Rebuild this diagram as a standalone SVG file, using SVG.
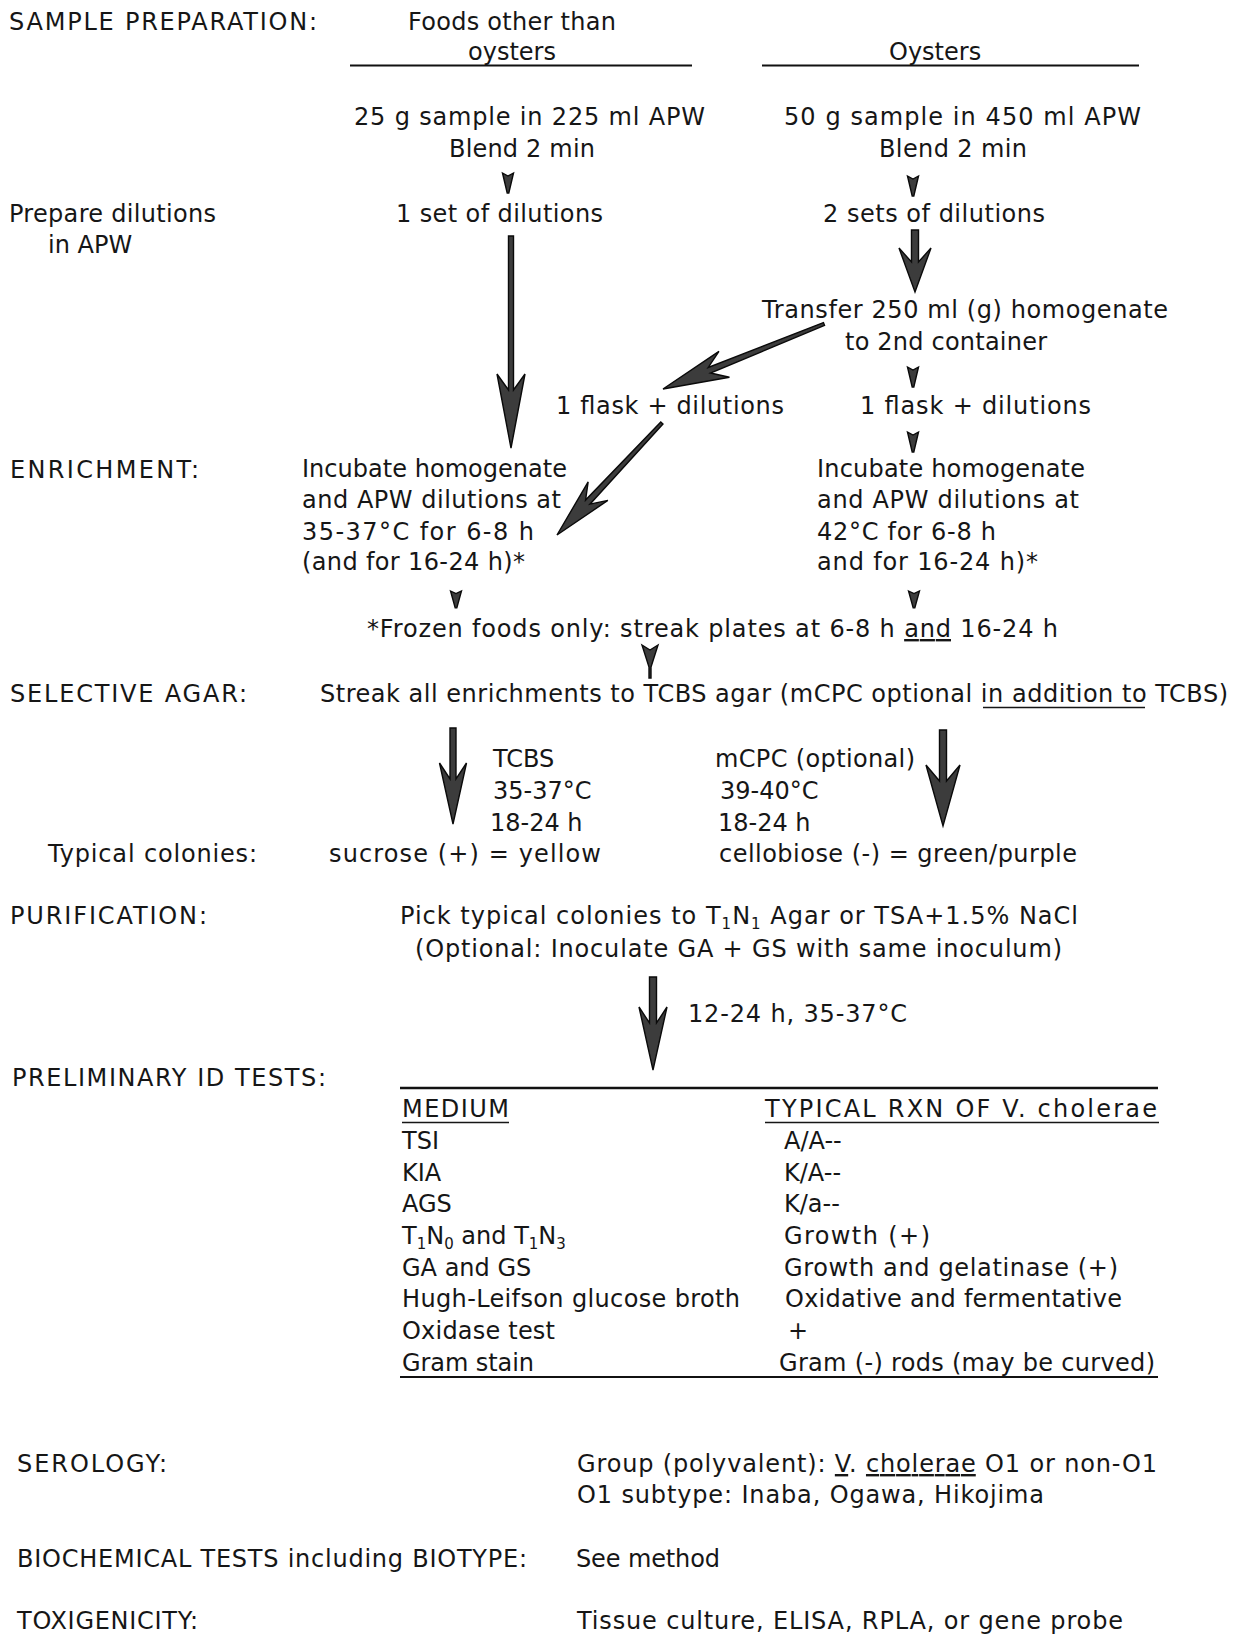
<svg xmlns="http://www.w3.org/2000/svg" width="1235" height="1636" viewBox="0 0 1235 1636">
<defs>
<style>
text{font-family:"DejaVu Sans","Liberation Sans",sans-serif;font-size:24px;fill:#161616}
.ul{text-decoration:underline}
.sub{font-size:15px}
.arrow{fill:#3c3c3c;stroke:#0a0a0a;stroke-width:1.4;stroke-linejoin:miter}
.rule{stroke:#111;stroke-width:2;fill:none}
.uline{stroke:#161616;stroke-width:1.6;fill:none}
</style>
<polygon id="dart" points="-5.5,0 0,3 5.5,0 0.8,20 -0.8,20"/>
</defs>
<rect width="1235" height="1636" fill="#fff"/>

<g id="sample-prep">
<text x="9" y="30" textLength="308">SAMPLE PREPARATION:</text>
<text x="408" y="30" textLength="208">Foods other than</text>
<text x="468" y="60">oysters</text>
<text x="889" y="60">Oysters</text>
<line class="rule" x1="350" y1="65.5" x2="692" y2="65.5"/>
<line class="rule" x1="762" y1="65.5" x2="1139" y2="65.5"/>
</g>

<g id="left-sample">
<text x="354" y="125" textLength="351">25 g sample in 225 ml APW</text>
<text x="449" y="157" textLength="146">Blend 2 min</text>
</g>
<g id="right-sample">
<text x="784" y="125" textLength="357">50 g sample in 450 ml APW</text>
<text x="879" y="157" textLength="148">Blend 2 min</text>
</g>
<g id="prepare-label">
<text x="9" y="222" textLength="207">Prepare dilutions</text>
<text x="48" y="253">in APW</text>
</g>
<g id="left-dilutions"><text x="396" y="222" textLength="207">1 set of dilutions</text></g>
<g id="right-dilutions"><text x="823" y="222" textLength="222">2 sets of dilutions</text></g>
<g id="transfer">
<text x="762" y="318" textLength="406">Transfer 250 ml (g) homogenate</text>
<text x="845" y="350" textLength="202">to 2nd container</text>
</g>
<g id="flask-left"><text x="556" y="414" textLength="228">1 flask + dilutions</text></g>
<g id="flask-right"><text x="860" y="414" textLength="231">1 flask + dilutions</text></g>

<g id="enrichment-label"><text x="10" y="478" textLength="189">ENRICHMENT:</text></g>
<g id="incubate-left">
<text x="302" y="477" textLength="265">Incubate homogenate</text>
<text x="302" y="508" textLength="259">and APW dilutions at</text>
<text x="302" y="540" textLength="232">35-37°C for 6-8 h</text>
<text x="302" y="570" textLength="223">(and for 16-24 h)*</text>
</g>
<g id="incubate-right">
<text x="817" y="477" textLength="268">Incubate homogenate</text>
<text x="817" y="508" textLength="262">and APW dilutions at</text>
<text x="817" y="540" textLength="179">42°C for 6-8 h</text>
<text x="817" y="570" textLength="221">and for 16-24 h)*</text>
</g>
<g id="frozen-note"><text x="367" y="637" textLength="691">*Frozen foods only: streak plates at 6-8 h <tspan class="ul">and</tspan> 16-24 h</text></g>

<g id="selective-label"><text x="10" y="702" textLength="237">SELECTIVE AGAR:</text></g>
<g id="streak">
<text x="320" y="702" textLength="908">Streak all enrichments to TCBS agar (mCPC optional in addition to TCBS)</text>
<line class="uline" x1="983" y1="707.5" x2="1145" y2="707.5"/>
</g>
<g id="tcbs">
<text x="493" y="767">TCBS</text>
<text x="493" y="799">35-37°C</text>
<text x="490" y="831">18-24 h</text>
</g>
<g id="mcpc">
<text x="715" y="767" textLength="200">mCPC (optional)</text>
<text x="720" y="799">39-40°C</text>
<text x="718" y="831">18-24 h</text>
</g>
<g id="typical-label"><text x="48" y="862" textLength="209">Typical colonies:</text></g>
<g id="typical-tcbs"><text x="329" y="862" textLength="272">sucrose (+) = yellow</text></g>
<g id="typical-mcpc"><text x="719" y="862" textLength="358">cellobiose (-) = green/purple</text></g>

<g id="purification-label"><text x="10" y="924" textLength="197">PURIFICATION:</text></g>
<g id="purification">
<text x="400" y="924" textLength="678">Pick typical colonies to T<tspan class="sub" dy="5">1</tspan><tspan dy="-5">N</tspan><tspan class="sub" dy="5">1</tspan><tspan dy="-5"> Agar or TSA+1.5% NaCl</tspan></text>
<text x="415" y="957" textLength="647">(Optional: Inoculate GA + GS with same inoculum)</text>
</g>
<g id="incubation-note"><text x="688" y="1022" textLength="219">12-24 h, 35-37°C</text></g>

<g id="prelim-label"><text x="12" y="1086" textLength="314">PRELIMINARY ID TESTS:</text></g>
<g id="id-table">
<line class="rule" x1="400" y1="1088" x2="1158" y2="1088" style="stroke-width:2.5"/>
<text x="402" y="1117" textLength="107">MEDIUM</text>
<line class="uline" x1="402" y1="1122.5" x2="509" y2="1122.5"/>
<text x="765" y="1117" textLength="392">TYPICAL RXN OF V. cholerae</text>
<line class="uline" x1="765" y1="1122.5" x2="1159" y2="1122.5"/>
<text x="402" y="1149">TSI</text>
<text x="784" y="1149">A/A--</text>
<text x="402" y="1181">KIA</text>
<text x="784" y="1181">K/A--</text>
<text x="402" y="1212">AGS</text>
<text x="784" y="1212">K/a--</text>
<text x="402" y="1244">T<tspan class="sub" dy="5">1</tspan><tspan dy="-5">N</tspan><tspan class="sub" dy="5">0</tspan><tspan dy="-5"> and T</tspan><tspan class="sub" dy="5">1</tspan><tspan dy="-5">N</tspan><tspan class="sub" dy="5">3</tspan></text>
<text x="784" y="1244" textLength="146">Growth (+)</text>
<text x="402" y="1276">GA and GS</text>
<text x="784" y="1276" textLength="334">Growth and gelatinase (+)</text>
<text x="402" y="1307" textLength="338">Hugh-Leifson glucose broth</text>
<text x="785" y="1307" textLength="337">Oxidative and fermentative</text>
<text x="402" y="1339" textLength="153">Oxidase test</text>
<text x="788" y="1339">+</text>
<text x="402" y="1371" textLength="132">Gram stain</text>
<text x="779" y="1371" textLength="376">Gram (-) rods (may be curved)</text>
<line class="rule" x1="400" y1="1377" x2="1158" y2="1377"/>
</g>

<g id="serology-label"><text x="17" y="1472" textLength="150">SEROLOGY:</text></g>
<g id="serology">
<text x="577" y="1472" textLength="580">Group (polyvalent): <tspan class="ul">V</tspan>. <tspan class="ul">cholerae</tspan> O1 or non-O1</text>
<text x="577" y="1503" textLength="467">O1 subtype: Inaba, Ogawa, Hikojima</text>
</g>
<g id="biochem-label"><text x="17" y="1567" textLength="510">BIOCHEMICAL TESTS including BIOTYPE:</text></g>
<g id="biochem"><text x="576" y="1567" textLength="144">See method</text></g>
<g id="toxi-label"><text x="17" y="1629" textLength="181">TOXIGENICITY:</text></g>
<g id="toxi"><text x="577" y="1629" textLength="546">Tissue culture, ELISA, RPLA, or gene probe</text></g>

<g id="connectors">
<use href="#dart" class="arrow" x="508" y="173"/>
<use href="#dart" class="arrow" x="913" y="176"/>
<polygon class="arrow" points="508.5,236 513.5,236 513.5,390 525,374 511,448 497,374 508.5,390"/>
<polygon class="arrow" points="911.5,230 918.5,230 918.5,262 931,248 915,292 899,248 911.5,262"/>
<polygon class="arrow" transform="translate(663,389) rotate(68)" points="-1.5,-173.6 1.5,-173.6 3,-50 14,-66 0,0 -14,-66 -3,-50"/>
<use href="#dart" class="arrow" x="913" y="367"/>
<use href="#dart" class="arrow" x="913" y="432"/>
<polygon class="arrow" transform="translate(557,535) rotate(43.1)" points="-1.5,-153.5 1.5,-153.5 3,-45 13.5,-60 0,0 -13.5,-60 -3,-45"/>
<use href="#dart" class="arrow" transform="translate(456,591) scale(1,0.85)"/>
<use href="#dart" class="arrow" transform="translate(914,591) scale(1,0.85)"/>
<polygon class="arrow" points="642,645 650,650 658,645 651,667 651,678 649,678 649,667"/>
<polygon class="arrow" points="450,728 456,728 456,779 466.5,763 453,824 439.5,763 450,779"/>
<polygon class="arrow" points="939.5,730 946.5,730 946.5,781 960,765 943,826 926,765 939.5,781"/>
<polygon class="arrow" points="649.5,977 656.5,977 656.5,1023 667,1007 653,1070 639,1007 649.5,1023"/>
</g>
</svg>
